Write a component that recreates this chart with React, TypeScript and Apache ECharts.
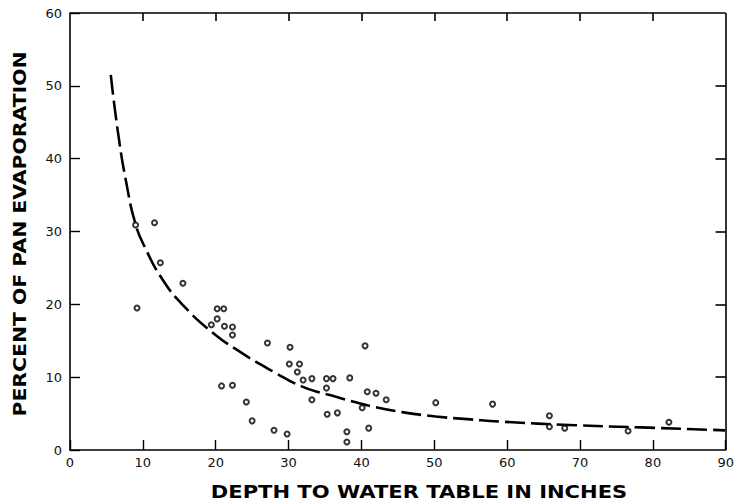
import React, { useEffect, useRef } from "react";
import * as echarts from "echarts";

const xTickLabels = ["0", "10", "20", "30", "40", "50", "60", "70", "80", "90"];
const yTickLabels = ["0", "10", "20", "30", "40", "50", "60"];
const xTickValues = [10, 20, 30, 40, 50, 60, 70, 80];
const yTickValues = [10, 20, 30, 40, 50];

const obsDepth = [
  9.0, 11.6, 12.4, 15.5, 9.2, 20.2, 21.1, 20.2, 19.4, 21.2, 22.3, 22.3, 27.1, 30.2, 40.5,
  30.1, 31.5, 31.2, 32.0, 33.2, 35.2, 36.1, 38.4, 35.2, 40.8, 42.0, 20.8, 22.3, 33.2, 24.2,
  43.4, 40.1, 35.3, 36.7, 25.0, 41.0, 28.0, 38.0, 29.8, 38.0, 50.2, 58.0, 65.8, 65.8, 67.9,
  76.6, 82.2,
];
const obsPercent = [
  30.9, 31.2, 25.7, 22.9, 19.5, 19.4, 19.4, 18.0, 17.2, 17.0, 16.9, 15.8, 14.7, 14.1, 14.3,
  11.8, 11.8, 10.7, 9.6, 9.8, 9.8, 9.8, 9.9, 8.5, 8.0, 7.8, 8.8, 8.9, 6.9, 6.6,
  6.9, 5.8, 4.9, 5.1, 4.0, 3.0, 2.7, 2.5, 2.2, 1.1, 6.5, 6.3, 4.7, 3.2, 3.0,
  2.6, 3.8,
];

const curveDepth = [5.6, 6.6, 7.8, 9.0, 10.2, 12.7, 15.5, 19.6, 23.3, 28.0, 31.9, 36.5, 41.4, 45.6, 50.2, 55.0, 59.0, 69.4, 78.4, 89.9];
const curvePercent = [51.5, 43.5, 36.3, 31.0, 28.0, 23.4, 19.9, 16.1, 13.5, 10.7, 8.7, 7.3, 6.0, 5.2, 4.6, 4.2, 3.9, 3.4, 3.1, 2.7];

const xTitle = "DEPTH TO WATER TABLE IN INCHES";
const yTitle = "PERCENT OF PAN EVAPORATION";

export default function App() {
  const ref = useRef<HTMLDivElement>(null);
  useEffect(() => {
    if (!ref.current) return;
    const chart = echarts.init(ref.current, undefined, { renderer: "svg" });
    const font = "DejaVu Sans";
    const mkLine = () => ({ show: true, onZero: false, lineStyle: { color: "#000", width: 1.6 } });
    const mkTick = (len: number) => ({ show: true, inside: true, length: len, lineStyle: { color: "#000", width: 1.4 } });

    // frame along top and right, with short inward ticks (in data units of the axes)
    const topTickLen = 1.1;
    const rightTickLen = 1.4;
    const frameLines: any[] = [
      [{ coord: [0, 60] }, { coord: [90, 60] }],
      [{ coord: [90, 60] }, { coord: [90, 0] }],
      ...xTickValues.map((v) => [{ coord: [v, 60] }, { coord: [v, 60 - topTickLen] }]),
      ...yTickValues.map((v) => [{ coord: [90, v] }, { coord: [90 - rightTickLen, v] }]),
    ];

    chart.setOption({
      animation: false,
      backgroundColor: "#fff",
      grid: { left: 70, right: 9, top: 13, bottom: 54 },
      xAxis: {
        type: "value", min: 0, max: 90, interval: 10, position: "bottom",
        axisLine: mkLine(), axisTick: mkTick(10), splitLine: { show: false },
        axisLabel: {
          color: "#111", fontFamily: font, fontSize: 13, margin: 6,
          formatter: (v: number) => xTickLabels[Math.round(v / 10)] ?? "",
        },
      },
      yAxis: {
        type: "value", min: 0, max: 60, interval: 10, position: "left",
        axisLine: mkLine(), axisTick: mkTick(10), splitLine: { show: false },
        axisLabel: {
          color: "#111", fontFamily: font, fontSize: 13, margin: 8,
          formatter: (v: number) => yTickLabels[Math.round(v / 10)] ?? "",
        },
      },
      graphic: [
        {
          type: "text", x: 419, y: 492, scaleX: 1.24,
          style: {
            text: xTitle, fill: "#000", textAlign: "center", textVerticalAlign: "middle",
            font: `bold 17px "${font}"`,
          },
        },
        {
          type: "text", x: 20, y: 234, rotation: Math.PI / 2, scaleX: 1.2,
          style: {
            text: yTitle, fill: "#000", textAlign: "center", textVerticalAlign: "middle",
            font: `bold 17px "${font}"`,
          },
        },
      ],
      series: [
        {
          type: "line",
          data: curveDepth.map((x, i) => [x, curvePercent[i]]),
          smooth: 0.5,
          showSymbol: false,
          lineStyle: { color: "#000", width: 2.6, type: [20, 6] },
          z: 2,
          markLine: {
            silent: true,
            symbol: ["none", "none"],
            label: { show: false },
            lineStyle: { color: "#000", width: 1.6, type: "solid" },
            data: frameLines,
          },
        },
        {
          type: "scatter",
          data: obsDepth.map((x, i) => [x, obsPercent[i]]),
          symbol: "emptyCircle",
          symbolSize: 5,
          itemStyle: { color: "#000", borderColor: "#000", borderWidth: 1.2 },
          z: 3,
        },
      ],
    });
    return () => chart.dispose();
  }, []);
  return <div ref={ref} style={{ position: "fixed", left: 0, top: 0, width: 737, height: 504 }} />;
}
